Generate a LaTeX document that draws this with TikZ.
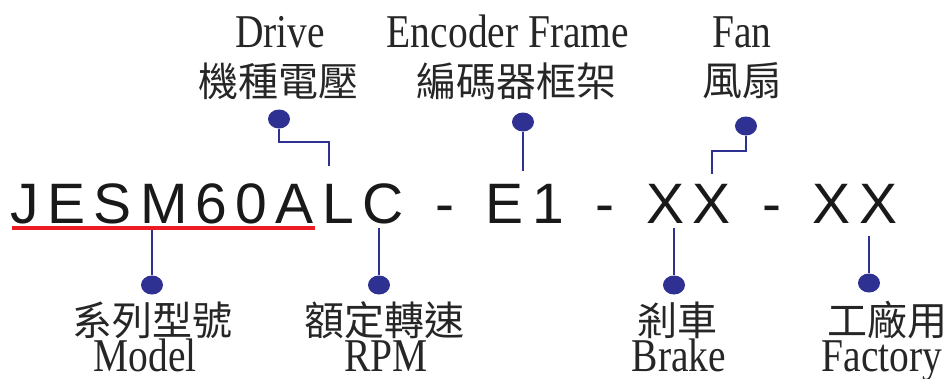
\documentclass[tikz,border=0pt]{standalone}
\usepackage{fontspec}
\usepackage{tikz}
\usetikzlibrary{shapes}
\newfontfamily\codefont[LetterSpace=14.6, WordSpace=1.31]{Liberation Sans}
\newfontfamily\latinfont[FakeStretch=0.84]{Liberation Serif}
\newfontfamily\hanzifont{Noto Sans CJK TC}
\definecolor{navy}{RGB}{46,49,146}
\definecolor{markred}{RGB}{237,28,36}
\tikzset{dot node/.style={ellipse, fill=navy, inner sep=0pt,
    minimum width=22pt, minimum height=19pt}}
\tikzset{code node/.style={anchor=base west, inner sep=0pt, text=black!90,
    font=\codefont\fontsize{57}{57}\selectfont}}
\tikzset{latin node/.style={anchor=base, inner sep=0pt, text=black!85,
    font=\latinfont\fontsize{47}{47}\selectfont}}
\tikzset{hanzi node/.style={inner sep=0pt, text=black!85,
    font=\hanzifont\fontsize{40}{40}\selectfont}}
\tikzset{regular edge/.style={draw=navy, line width=2pt}}
\tikzset{underline edge/.style={draw=markred, line width=4pt}}

\begin{document}
\begin{tikzpicture}
      [x=1pt, y=-1pt]
      \useasboundingbox (0,0) rectangle (950,378);
      \node [code node]   (code)    at (10.5, 223) {JESM60ALC - E1 - XX - XX};

      \node [latin node]  (top0)    at (280,  47) {Drive};
      \node [latin node]  (top1)    at (508,  47) {Encoder Frame};
      \node [latin node]  (top2)    at (742,  47) {Fan};
      \node [hanzi node]  (topzh0)  at (278,  81) {機種電壓};
      \node [hanzi node]  (topzh1)  at (516,  81) {編碼器框架};
      \node [hanzi node]  (topzh2)  at (742,  81) {風扇};
      \node [dot node]    (topdot0) at (279, 119) {};
      \node [dot node]    (topdot1) at (523, 122) {};
      \node [dot node]    (topdot2) at (746, 126) {};

      \node [dot node]    (botdot0) at (152, 285) {};
      \node [dot node]    (botdot1) at (379, 285) {};
      \node [dot node]    (botdot2) at (674, 285) {};
      \node [dot node]    (botdot3) at (869, 283) {};
      \node [hanzi node]  (botzh0)  at (152, 320) {系列型號};
      \node [hanzi node]  (botzh1)  at (384, 320) {額定轉速};
      \node [hanzi node]  (botzh2)  at (677, 320) {剎車};
      \node [hanzi node]  (botzh3)  at (887, 320) {工廠用};
      \node [latin node]  (bot0)    at (145, 371) {Model};
      \node [latin node]  (bot1)    at (386, 371) {RPM};
      \node [latin node]  (bot2)    at (679, 371) {Brake};
      \node [latin node]  (bot3)    at (882, 371) {Factory};

      \coordinate (bend0)  at (329, 142);
      \coordinate (tick0)  at (329, 166);
      \coordinate (tick1)  at (523, 171);
      \coordinate (bend2)  at (712, 151);
      \coordinate (tick2)  at (712, 174);
      \coordinate (tick3)  at (152, 230);
      \coordinate (tick4)  at (379, 228);
      \coordinate (tick5)  at (674, 228);
      \coordinate (tick6)  at (869, 236);
      \coordinate (mark0)  at ( 12, 228);
      \coordinate (mark1)  at (315, 228);

      \draw [underline edge] (mark0) -- (mark1);
      \draw [regular edge]   (topdot0) |- (bend0) -- (tick0);
      \draw [regular edge]   (topdot1) -- (tick1);
      \draw [regular edge]   (topdot2) |- (bend2) -- (tick2);
      \draw [regular edge]   (tick3) -- (botdot0);
      \draw [regular edge]   (tick4) -- (botdot1);
      \draw [regular edge]   (tick5) -- (botdot2);
      \draw [regular edge]   (tick6) -- (botdot3);
\end{tikzpicture}
\end{document}
